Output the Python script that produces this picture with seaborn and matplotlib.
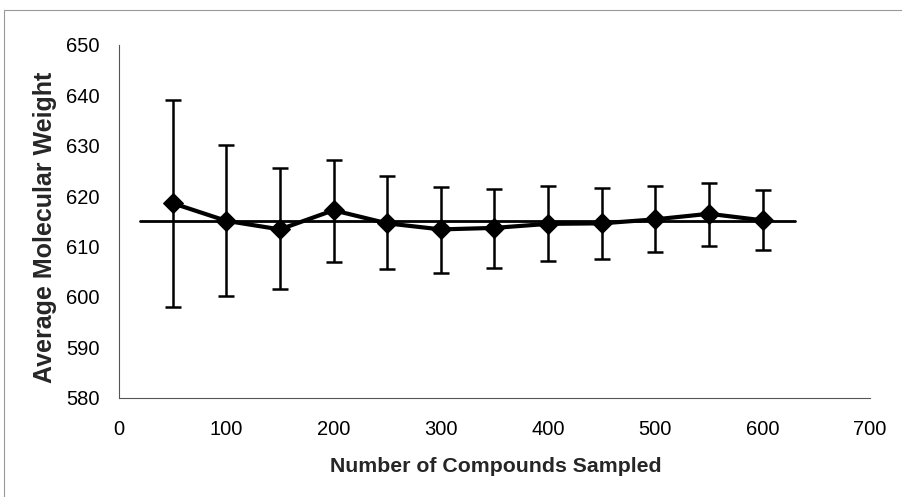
import numpy as np
import pandas as pd
import seaborn as sns
import matplotlib.pyplot as plt
from matplotlib.patches import Rectangle

# values
n_sampled = [50, 100, 150, 200, 250, 300, 350, 400, 450, 500, 550, 600]
avg_mw = [618.6, 615.1, 613.4, 617.2, 614.6, 613.4, 613.7, 614.5, 614.6, 615.4, 616.5, 615.2]
err_high = [639.0, 630.1, 625.6, 627.2, 623.9, 621.8, 621.5, 622.0, 621.6, 622.0, 622.6, 621.2]
err_low = [598.0, 600.1, 601.6, 607.0, 605.6, 604.8, 605.8, 607.1, 607.5, 608.9, 610.2, 609.3]
ref_x = [20, 630]
ref_mw = 615.0

df = pd.DataFrame({"n": n_sampled, "mw": avg_mw, "hi": err_high, "lo": err_low})

sns.set_theme(style="white")
plt.rcParams['font.family'] = ['Liberation Sans', 'DejaVu Sans']

fig = plt.figure(figsize=(9.02, 4.97), dpi=100)
ax = fig.add_axes([0.1319, 0.1998, 0.8326, 0.7097])

# overall mean line
ax.plot(ref_x, [ref_mw, ref_mw], color='black', linewidth=2, zorder=2)

# error bars
yerr = np.array([df['mw'] - df['lo'], df['hi'] - df['mw']])
ax.errorbar(df['n'], df['mw'], yerr=yerr, fmt='none', ecolor='black',
            elinewidth=1.8, capsize=6, capthick=1.8, zorder=3)

# main series
sns.lineplot(data=df, x='n', y='mw', marker='D', markersize=10, color='black',
             linewidth=3, markeredgecolor='black', ax=ax, zorder=4)

ax.set_xlim(0, 700)
ax.set_ylim(580, 650)
ax.set_xticks(range(0, 701, 100))
ax.set_yticks(range(580, 651, 10))
ax.tick_params(axis='both', labelsize=14.5, direction='out', length=4, width=0.8,
               colors='black')
ax.tick_params(axis='y', pad=10)
ax.tick_params(axis='x', pad=12)

for side in ['top', 'right']:
    ax.spines[side].set_visible(False)
for side in ['left', 'bottom']:
    ax.spines[side].set_color('#555555')
    ax.spines[side].set_linewidth(0.8)

ax.set_xlabel('Number of Compounds Sampled', fontsize=15.3, fontweight='bold')
ax.set_ylabel('Average Molecular Weight', fontsize=18, fontweight='bold')
ax.xaxis.set_label_coords(0.502, -0.168)
ax.yaxis.set_label_coords(-0.083, 0.483)

# scanned frame around the chart
fig.patches.append(Rectangle((0.004, -0.01), 1.2, 0.99, transform=fig.transFigure,
                             fill=False, edgecolor='#999999', linewidth=0.8))

fig.savefig('out.png', dpi=100)
